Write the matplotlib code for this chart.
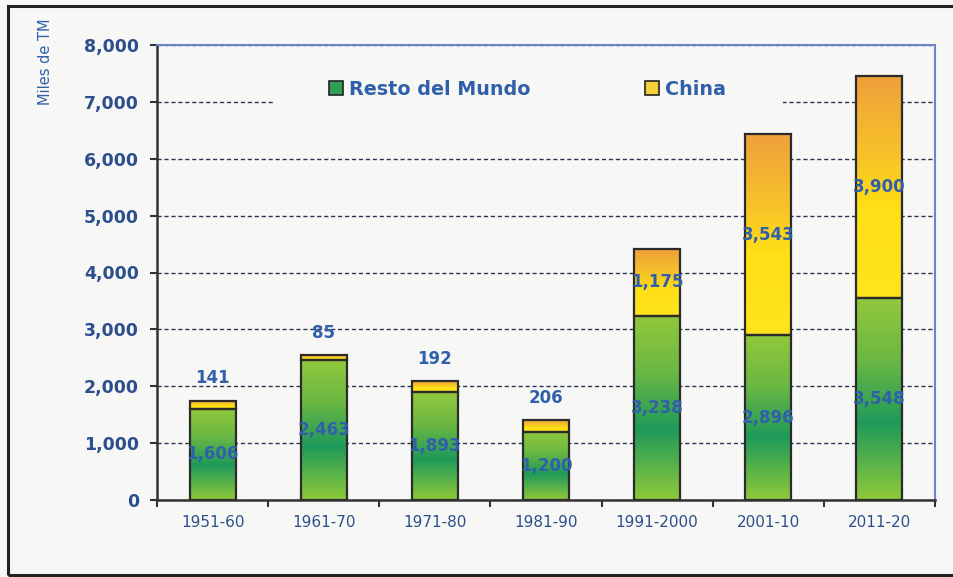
import numpy as np
import matplotlib
matplotlib.use("Agg")
import matplotlib.pyplot as plt
from matplotlib.patches import Rectangle, Patch
from matplotlib.colors import LinearSegmentedColormap

categories = ["1951-60", "1961-70", "1971-80", "1981-90", "1991-2000", "2001-10", "2011-20"]
resto = [1606, 2463, 1893, 1200, 3238, 2896, 3548]
china = [141, 85, 192, 206, 1175, 3543, 3900]
yticks = [0, 1000, 2000, 3000, 4000, 5000, 6000, 7000, 8000]

paper = "#f7f8f6"
txt_blue = "#3060aa"
tick_blue = "#2d4e8c"

plt.rcParams['font.family'] = ['DejaVu Sans']

fig = plt.figure(figsize=(9.54, 5.77), dpi=100, facecolor=paper)
ax = fig.add_axes([157/954, 1-500/577, (935-157)/954, (500-45)/577])
ax.set_facecolor(paper)

x = np.arange(len(categories))
w = 0.415

green_cmap = LinearSegmentedColormap.from_list(
    "g", [(0.0, "#92c83c"), (0.3, "#6cb842"), (0.62, "#1f9a5a"), (1.0, "#90c93a")])
china_cmap = LinearSegmentedColormap.from_list(
    "c", [(0.0, "#eea03a"), (0.35, "#f7c22a"), (0.6, "#ffdf15"), (1.0, "#ffe41e")])

b1 = ax.bar(x, resto, width=w, color="none", edgecolor="#2b2b2b", linewidth=1.6, zorder=4)
b2 = ax.bar(x, china, bottom=resto, width=w, color="none", edgecolor="#2b2b2b", linewidth=1.6, zorder=4)

grad = np.linspace(0, 1, 256).reshape(-1, 1)
for bars, cmap in ((b1, green_cmap), (b2, china_cmap)):
    for p in bars:
        x0, y0 = p.get_x(), p.get_y()
        pw, ph = p.get_width(), p.get_height()
        im = ax.imshow(grad, cmap=cmap, aspect="auto",
                       extent=[x0, x0 + pw, y0, y0 + ph], origin="upper", zorder=3)
        clip = Rectangle((x0, y0), pw, ph, transform=ax.transData)
        im.set_clip_path(clip)

ax.set_xlim(-0.5, len(categories) - 0.5)
ax.set_ylim(0, 8000)
ax.set_yticks(yticks)
ax.set_yticklabels([f"{v:,}" for v in yticks], fontsize=12.5, fontweight="bold", color=tick_blue)
ax.set_xticks(np.arange(-0.5, len(categories), 1.0))
ax.set_xticklabels([])
ax.set_xticks(x, minor=True)
ax.set_xticklabels(categories, minor=True, fontsize=11, color=tick_blue)
ax.tick_params(axis="x", which="minor", length=0, pad=11)
ax.tick_params(axis="x", which="major", length=5, width=1.5, color="#333333", direction="out")
ax.tick_params(axis="y", length=5, width=1.5, color="#333333", direction="out", pad=8)

ax.set_axisbelow(True)
ax.yaxis.grid(True, linestyle=(0, (3, 2)), color="#2a3550", linewidth=1.0, zorder=1)
for s in ("left", "bottom"):
    ax.spines[s].set_color("#333333")
    ax.spines[s].set_linewidth(1.8)
for s in ("top", "right"):
    ax.spines[s].set_color("#6a86c6")
    ax.spines[s].set_linewidth(1.5)

# blank area behind legend (interrupts gridline)
ax.add_patch(Rectangle(((273-157)/778, (500-112)/455), (783-273)/778, 44/455,
                       transform=ax.transAxes, facecolor=paper, edgecolor="none", zorder=2))

for i in range(len(categories)):
    ax.text(x[i], resto[i] / 2, f"{resto[i]:,}", ha="center", va="center",
            fontsize=12, fontweight="bold", color=txt_blue, zorder=6)
    if china[i] < 500:
        ax.annotate(f"{china[i]:,}", (x[i], resto[i] + china[i]), xytext=(0, 16),
                    textcoords="offset points", ha="center", va="center",
                    fontsize=12, fontweight="bold", color=txt_blue, zorder=6)
    else:
        ax.text(x[i], resto[i] + china[i] / 2, f"{china[i]:,}", ha="center", va="center",
                fontsize=12, fontweight="bold", color=txt_blue, zorder=6)

handles = [Patch(facecolor="#2f9e55", edgecolor="#222222", linewidth=1.2),
           Patch(facecolor="#f6d03a", edgecolor="#222222", linewidth=1.2)]
leg = ax.legend(handles, ["Resto del Mundo", "China"], ncol=2, loc="center",
                bbox_to_anchor=(0.476, 0.903), frameon=False,
                columnspacing=5.95, handlelength=0.75, handleheight=0.75, handletextpad=0.3,
                prop={"size": 13.8, "weight": "bold"}, borderpad=0.3)
for t in leg.get_texts():
    t.set_color(txt_blue)
leg.set_zorder(5)

fig.text(46/954, 1-62/577, "Miles de TM", rotation=90, ha="center", va="center",
         fontsize=10.5, color=txt_blue)

fig.patches.append(Rectangle((8/954, 2/577), (970-8)/954, (571-2)/577,
                             transform=fig.transFigure, fill=False,
                             edgecolor="#222222", linewidth=2.2))

fig.savefig("out.png", dpi=100, facecolor=paper)
